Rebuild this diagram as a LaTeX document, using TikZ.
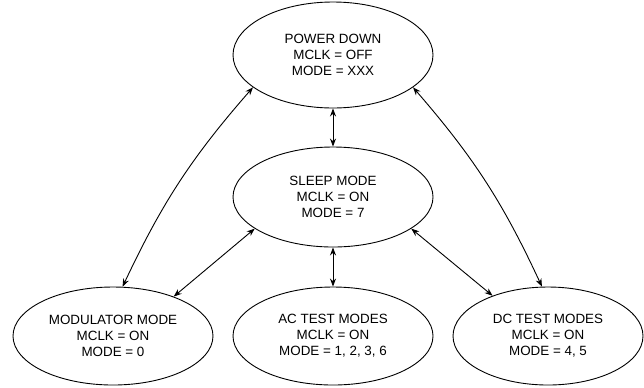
\documentclass[tikz,border=0pt]{standalone}
\usepackage{fontspec}
\setmainfont{Liberation Sans}
\usetikzlibrary{shapes}
\usetikzlibrary{positioning}
\usetikzlibrary{arrows.meta}

\begin{document}
\begin{tikzpicture}[x=1bp, y=1bp, node distance=142bp, auto, line width=0.9bp,
        >={Stealth[length=8bp,width=6bp]},
        mode_state/.style={ellipse, draw, align=center, inner sep=0pt,
            minimum width=200bp, minimum height=100bp,
            font=\fontsize{13.4bp}{16bp}\selectfont}]
            \useasboundingbox (0,0) rectangle (644,-387);
            \node[mode_state, minimum height=106bp] (power_down) at (333,-55) {POWER DOWN \\ MCLK = OFF \\ MODE = XXX};
            \node[mode_state] (sleep_mode) [below of=power_down] {SLEEP MODE \\ MCLK = ON \\ MODE = 7};
            \node[mode_state, minimum height=98bp] (ac_test) [node distance=139bp, below of=sleep_mode] {AC TEST MODES \\ MCLK = ON \\ MODE = 1, 2, 3, 6};
            \node[mode_state, minimum height=98bp] (modulator_mode) [node distance=220bp, left of=ac_test] {MODULATOR MODE \\ MCLK = ON \\ MODE = 0};
            \node[mode_state, minimum width=190bp, minimum height=98bp] (dc_test) [node distance=215bp, right of=ac_test] {DC TEST MODES \\ MCLK = ON \\ MODE = 4, 5};
            \draw[<->] (power_down) -- (sleep_mode);
            \draw[<->] (sleep_mode) -- (ac_test);
            \draw[<->] (power_down.202) to[bend right=8] (modulator_mode.79);
            \draw[<->] (power_down.338) to[bend left=8] (dc_test.97);
            \draw[<->] (sleep_mode.202) -- (modulator_mode.33);
            \draw[<->] (sleep_mode.338) -- (dc_test.144);
        \end{tikzpicture}
\end{document}
